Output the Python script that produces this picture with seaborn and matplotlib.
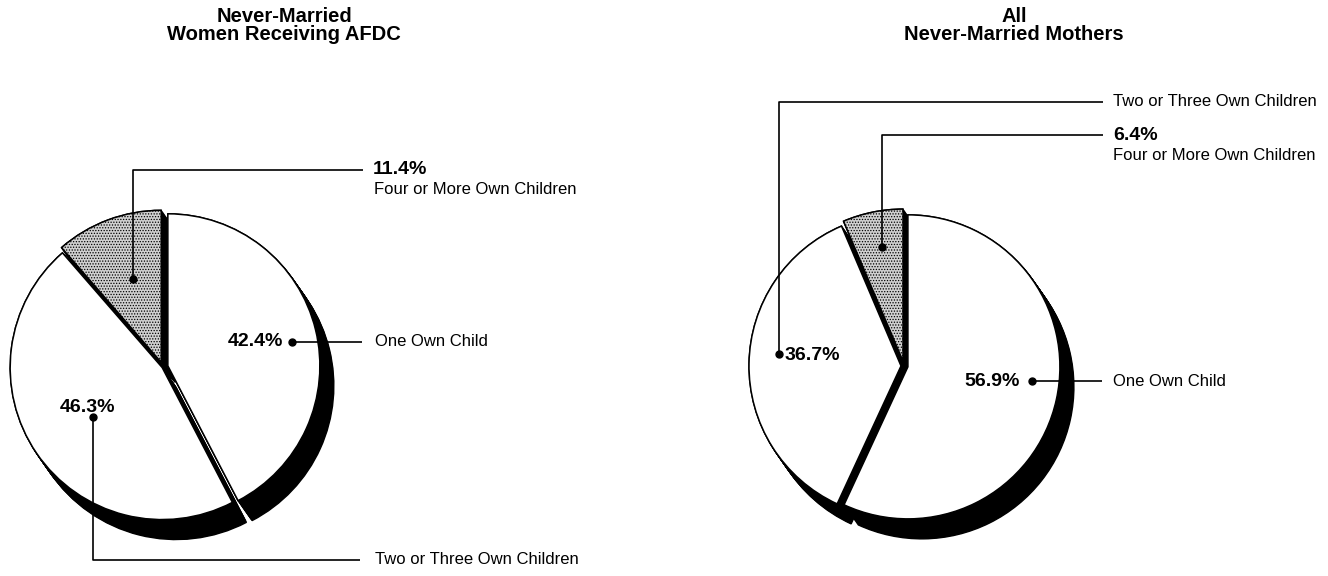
import matplotlib
matplotlib.use("Agg")
import matplotlib.pyplot as plt
import seaborn as sns
import numpy as np

sns.set_theme(style="white")
plt.rcParams['font.family'] = ['Liberation Sans', 'DejaVu Sans']
plt.rcParams['text.color'] = 'black'
plt.rcParams['hatch.linewidth'] = 0.6

# ---- data ----
categories = ["One Own Child", "Two or Three Own Children", "Four or More Own Children"]
afdc_values = [42.4, 46.3, 11.4]
all_values = [56.9, 36.7, 6.4]
afdc_title = "Never-Married\nWomen Receiving AFDC"
all_title = "All\nNever-Married Mothers"

W, H = 1328, 576
fig = plt.figure(figsize=(W / 100, H / 100), dpi=100)
ax = fig.add_axes([0, 0, 1, 1])


def Y(y):
    return H - y


def draw_pie(values, cx, cy, r, explode):
    colors = ["white", "white", "#d0d0d0"]
    hatches = [None, None, "......"]
    # extruded black shadow (down-right)
    off = np.array([14, -20])
    for t in np.linspace(0, 1, 20):
        ax.pie(values, center=(cx + t * off[0], Y(cy) + t * off[1]), radius=r,
               startangle=90, counterclock=False, explode=explode,
               colors=["black"] * 3,
               wedgeprops=dict(edgecolor="black", linewidth=1))
    wedges, _ = ax.pie(values, center=(cx, Y(cy)), radius=r, startangle=90,
                       counterclock=False, explode=explode, colors=colors,
                       wedgeprops=dict(edgecolor="black", linewidth=1.1))
    for w, h in zip(wedges, hatches):
        if h:
            w.set_hatch(h)


# explode offsets are in pixels (data units)
draw_pie(afdc_values, 163, 367, 152, [5, 1, 5])
draw_pie(all_values, 904, 366, 152, [4, 3, 5])


def leader(points, dot):
    xs = [p[0] for p in points]
    ys = [Y(p[1]) for p in points]
    ax.plot(xs, ys, color="black", lw=1.2, solid_capstyle="butt")
    ax.plot([dot[0]], [Y(dot[1])], "o", color="black", ms=5)


pct_fs = 14
lab_fs = 12
title_fs = 14.5

# titles
ax.text(284, Y(7), afdc_title, ha="center", va="top", fontsize=title_fs,
        fontweight="bold", linespacing=0.95)
ax.text(1014, Y(7), all_title, ha="center", va="top", fontsize=title_fs,
        fontweight="bold", linespacing=0.95)

# left pie labels
leader([(133, 279), (133, 170), (363, 170)], (133, 279))
ax.text(373, Y(170), f"{afdc_values[2]}%", ha="left", va="center",
        fontsize=pct_fs, fontweight="bold")
ax.text(374, Y(190), categories[2], ha="left", va="center", fontsize=lab_fs)

leader([(292, 342), (362, 342)], (292, 342))
ax.text(283, Y(342), f"{afdc_values[0]}%", ha="right", va="center",
        fontsize=pct_fs, fontweight="bold")
ax.text(375, Y(342), categories[0], ha="left", va="center", fontsize=lab_fs)

leader([(93, 417), (93, 560), (360, 560)], (93, 417))
ax.text(88, Y(408), f"{afdc_values[1]}%", ha="center", va="center",
        fontsize=pct_fs, fontweight="bold")
ax.text(375, Y(560), categories[1], ha="left", va="center", fontsize=lab_fs)

# right pie labels
leader([(779, 354), (779, 102), (1103, 102)], (779, 354))
ax.text(785, Y(355), f"{all_values[1]}%", ha="left", va="center",
        fontsize=pct_fs, fontweight="bold")
ax.text(1113, Y(102), categories[1], ha="left", va="center", fontsize=lab_fs)

leader([(882, 247), (882, 135), (1103, 135)], (882, 247))
ax.text(1113, Y(135), f"{all_values[2]}%", ha="left", va="center",
        fontsize=pct_fs, fontweight="bold")
ax.text(1113, Y(155), categories[2], ha="left", va="center", fontsize=lab_fs)

leader([(1032, 381), (1102, 381)], (1032, 381))
ax.text(1020, Y(381), f"{all_values[0]}%", ha="right", va="center",
        fontsize=pct_fs, fontweight="bold")
ax.text(1113, Y(381), categories[0], ha="left", va="center", fontsize=lab_fs)

ax.set_xlim(0, W)
ax.set_ylim(0, H)
ax.set_aspect("equal")
ax.axis("off")
fig.savefig("out.png", dpi=100, facecolor="white")
